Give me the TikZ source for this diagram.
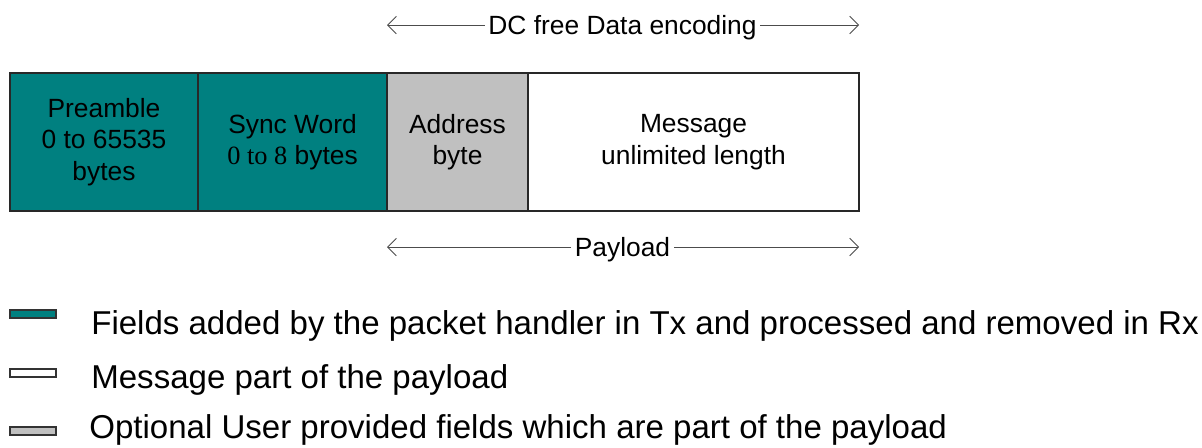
\documentclass[tikz,border=0pt]{standalone}
\usepackage{fontspec}
\setmainfont{Liberation Sans}
\newfontfamily\serifpart{Liberation Serif}
\usetikzlibrary{arrows.meta}
\definecolor{fieldteal}{RGB}{0,128,128}
\definecolor{usergray}{RGB}{192,192,192}
\definecolor{framegray}{RGB}{40,40,40}
\begin{document}
\begin{tikzpicture}[
  field/.style={draw=framegray,line width=0.6pt,minimum height=2.76cm,
    inner sep=0pt,align=center,font=\fontsize{15}{18}\selectfont},
  span/.style={draw=black!70,line width=0.5pt,-{Straight Barb[length=5pt,width=10pt]}},
  lbl/.style={inner sep=2pt,font=\fontsize{15}{18}\selectfont},
  swatch/.style={draw=black!80,line width=0.6pt,minimum width=0.92cm,
    minimum height=0.16cm,inner sep=0pt},
  legtext/.style={anchor=west,inner sep=0pt,font=\fontsize{18.8}{22}\selectfont}
]
  \useasboundingbox (0,0) rectangle (24.04,-8.94);

  \node[field,fill=fieldteal,minimum width=3.76cm] (pre) at (2.08, -2.84)
    {Preamble\\0 to 65535\\bytes};
  \node[field,fill=fieldteal,minimum width=3.78cm] (sync) at (5.85, -2.84)
    {Sync Word\\{\serifpart 0 to 8} bytes};
  \node[field,fill=usergray,minimum width=2.82cm] (addr) at (9.15, -2.84)
    {Address\\byte};
  \node[field,fill=white,minimum width=6.62cm] (msg) at (13.87, -2.84)
    {Message\\unlimited length};

  \node[lbl] (dc) at (12.45, -0.56) {DC free Data encoding};
  \coordinate (dcl) at (7.74, -0.5);
  \coordinate (dcr) at (17.18, -0.5);
  \draw[span] (dc.west |- dcl) -- (dcl);
  \draw[span] (dc.east |- dcr) -- (dcr);

  \node[lbl] (pay) at (12.45, -5.0) {Payload};
  \coordinate (payl) at (7.74, -4.94);
  \coordinate (payr) at (17.18, -4.94);
  \draw[span] (pay.west |- payl) -- (payl);
  \draw[span] (pay.east |- payr) -- (payr);

  \node[swatch,fill=fieldteal] (k1) at (0.66, -6.28) {};
  \node[swatch,fill=white] (k2) at (0.66, -7.46) {};
  \node[swatch,fill=usergray] (k3) at (0.66, -8.62) {};

  \node[legtext] (t1) at (1.82, -6.52)
    {Fields added by the packet handler in Tx and processed and removed in Rx};
  \node[legtext] (t2) at (1.82, -7.6) {Message part of the payload};
  \node[legtext] (t3) at (1.78, -8.6)
    {Optional User provided fields which are part of the payload};
\end{tikzpicture}
\end{document}
